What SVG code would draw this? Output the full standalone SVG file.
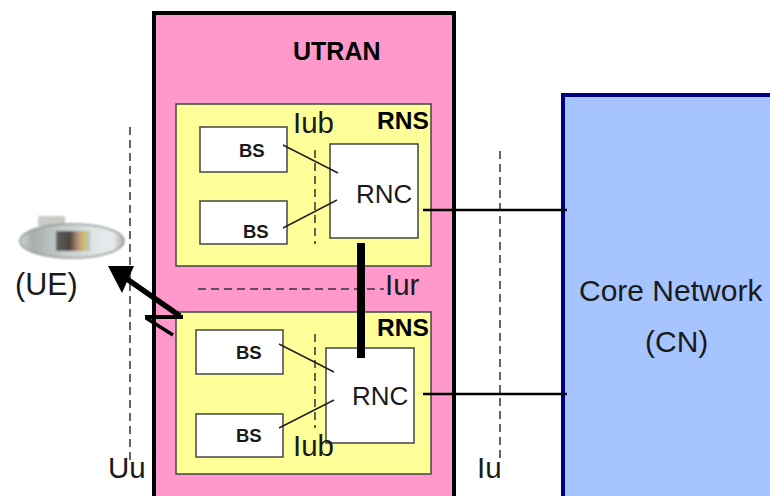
<svg xmlns="http://www.w3.org/2000/svg" width="770" height="496" viewBox="0 0 770 496">
<style>
.t{font-family:"Liberation Sans",Arial,sans-serif;fill:#1a1a1a}
.lbl{font-size:29.5px}
.rnc{font-size:26px}
.bs{font-size:18.5px;font-weight:bold}
.rns{font-size:24.5px;font-weight:bold;fill:#000}
.rnsbox{fill:#ffff99;stroke:#444;stroke-width:1.5}
.box{fill:#fff;stroke:#444;stroke-width:1.5}
.thin{stroke:#222;stroke-width:1.5;fill:none}
.dash{stroke:#333;stroke-width:1.5;fill:none;stroke-dasharray:8 5}
.thick{stroke:#000;fill:none}
</style>
<defs>
<linearGradient id="ph" x1="0" x2="1" y1="0" y2="0"><stop offset="0" stop-color="#d4d6d6"/><stop offset=".12" stop-color="#a8adad"/><stop offset=".3" stop-color="#b9c2c2"/><stop offset=".75" stop-color="#e2e6e8"/><stop offset=".9" stop-color="#e8eaea"/><stop offset="1" stop-color="#a8abab"/></linearGradient>
<linearGradient id="scr" x1="0" x2="1" y1="0" y2="0"><stop offset="0" stop-color="#5d635f"/><stop offset=".4" stop-color="#4d463f"/><stop offset=".65" stop-color="#b9927a"/><stop offset=".85" stop-color="#d8c070"/><stop offset="1" stop-color="#a9c4d0"/></linearGradient>
<filter id="soft"><feGaussianBlur stdDeviation="1"/></filter>
</defs>
<rect width="770" height="496" fill="#fff"/>
<g id="utran">
<rect x="154" y="13" width="300" height="490" fill="#ff99cc" stroke="#000" stroke-width="4"/>
<text class="t" x="293" y="60" font-size="25" font-weight="bold" style="fill:#000">UTRAN</text>
</g>
<g id="core-network">
<rect x="563" y="95" width="220" height="410" fill="#a6c4ff" stroke="#000080" stroke-width="4"/>
<text class="t" x="579" y="301" font-size="30">Core Network</text>
<text class="t" x="645" y="352" font-size="30">(CN)</text>
</g>
<g id="rns-1">
<rect class="rnsbox" x="176" y="104" width="255" height="162"/>
<text class="t rns" x="377" y="129">RNS</text>
</g>
<g id="rns-2">
<rect class="rnsbox" x="176" y="312" width="255" height="162"/>
<text class="t rns" x="377" y="336">RNS</text>
</g>
<g id="bs-1"><rect class="box" x="200" y="127" width="87" height="45"/><text class="t bs" x="239" y="157">BS</text></g>
<g id="bs-2"><rect class="box" x="200" y="201" width="87" height="43"/><text class="t bs" x="243" y="238">BS</text></g>
<g id="rnc-1"><rect class="box" x="330" y="144" width="88" height="94"/><text class="t rnc" x="356" y="203">RNC</text></g>
<g id="bs-3"><rect class="box" x="196" y="330" width="87" height="44"/><text class="t bs" x="236" y="359">BS</text></g>
<g id="bs-4"><rect class="box" x="196" y="414" width="87" height="43"/><text class="t bs" x="236" y="442">BS</text></g>
<g id="rnc-2"><rect class="box" x="326" y="348" width="88" height="95"/><text class="t rnc" x="352" y="405">RNC</text></g>
<g id="ue">
<g filter="url(#soft)">
<rect x="38" y="216" width="27" height="10" fill="#c9cbc6"/>
<ellipse cx="72" cy="241" rx="52" ry="17" fill="url(#ph)" stroke="#8f9393" stroke-width="1.5"/>
<rect x="56" y="231" width="34" height="20" fill="url(#scr)"/>
</g>
<text class="t" x="15" y="295" font-size="30.5">(UE)</text>
</g>
<g id="connectors">
<path class="dash" d="M130 127V460"/>
<path class="dash" d="M500 151V462"/>
<path class="dash" d="M315 150V244"/>
<path class="dash" d="M315 334V428"/>
<path class="dash" d="M198 289H384"/>
<path class="thin" d="M283 145L338 173M283 228L337 200M279 344L334 372M279 428L334 400"/>
<path class="thick" stroke-width="2.5" d="M423 210H567M423 394H567"/>
<path class="thick" stroke-width="8" d="M361 243V358"/>
<path class="thick" stroke-width="5.5" d="M127 279L180 316"/>
<path class="thick" stroke-width="4" d="M145 317H183"/>
<path class="thick" stroke-width="3.5" d="M146 318L173 335"/>
<path d="M108 266H134L122 293Z" fill="#000"/>
</g>
<g id="labels">
<text class="t lbl" x="293" y="133">Iub</text>
<text class="t lbl" x="293" y="456">Iub</text>
<text class="t lbl" x="385" y="295">Iur</text>
<text class="t lbl" x="108" y="478">Uu</text>
<text class="t lbl" x="477" y="478">Iu</text>
</g>
</svg>
